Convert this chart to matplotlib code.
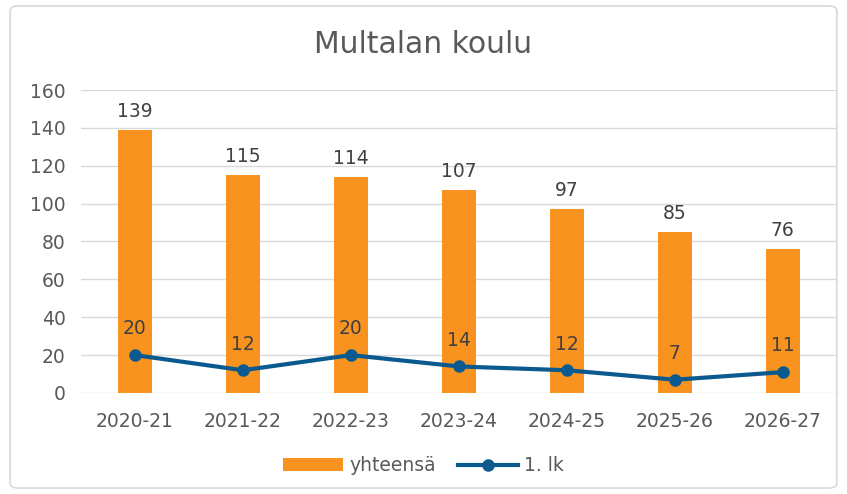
import matplotlib
matplotlib.use("Agg")
import matplotlib.pyplot as plt
from matplotlib.patches import FancyBboxPatch

categories = ["2020-21", "2021-22", "2022-23", "2023-24", "2024-25", "2025-26", "2026-27"]
yhteensa = [139, 115, 114, 107, 97, 85, 76]
lk1 = [20, 12, 20, 14, 12, 7, 11]
yticks = [0, 20, 40, 60, 80, 100, 120, 140, 160]

orange = "#F7931E"
blue = "#0B5A8F"
txt = "#595959"
plt.rcParams['font.family'] = ['DejaVu Sans']

fig = plt.figure(figsize=(8.47, 4.94), dpi=100)
ax = fig.add_axes([0.0956, 0.2045, 0.8924, 0.6133])
x = list(range(len(categories)))
bars = ax.bar(x, yhteensa, width=0.32, color=orange, label="yhteensä", zorder=2)
ax.plot(x, lk1, color=blue, lw=3, marker='o', ms=8, label="1. lk", zorder=3)

for xi, v in zip(x, yhteensa):
    ax.annotate(str(v), (xi, v), xytext=(0, 6.5), textcoords='offset points',
                ha='center', va='bottom', fontsize=13.5, color="#404040")
for xi, v in zip(x, lk1):
    ax.annotate(str(v), (xi, v), xytext=(0, 12), textcoords='offset points',
                ha='center', va='bottom', fontsize=13.5, color="#404040")

ax.set_xlim(-0.5, len(categories) - 0.5)
ax.set_ylim(0, 160)
ax.set_yticks(yticks)
ax.set_xticks(x)
ax.set_xticklabels(categories)
ax.tick_params(axis='both', length=0, labelsize=13.5, colors=txt)
ax.tick_params(axis='x', pad=14)
ax.tick_params(axis='y', pad=11)
ax.grid(axis='y', color="#D9D9D9", lw=1, zorder=0)
ax.set_axisbelow(True)
for s in ax.spines.values():
    s.set_visible(False)

fig.text(0.5, 0.91, "Multalan koulu", ha='center', va='center', fontsize=21.5, color=txt)

h, l = ax.get_legend_handles_labels()
order = [l.index("yhteensä"), l.index("1. lk")]
leg = fig.legend([h[i] for i in order], [l[i] for i in order], loc='center',
                 bbox_to_anchor=(0.5, 0.057), ncol=2, frameon=False,
                 fontsize=13.5, labelcolor=txt, handlelength=3.2, columnspacing=1.2,
                 handletextpad=0.3)

border = FancyBboxPatch((0.012, 0.012), 0.976, 0.976, boxstyle="round,pad=0,rounding_size=0.01",
                        transform=fig.transFigure, fill=False, edgecolor="#D9D9D9", lw=1.2)
fig.patches.append(border)

fig.savefig("out.png", dpi=100)
